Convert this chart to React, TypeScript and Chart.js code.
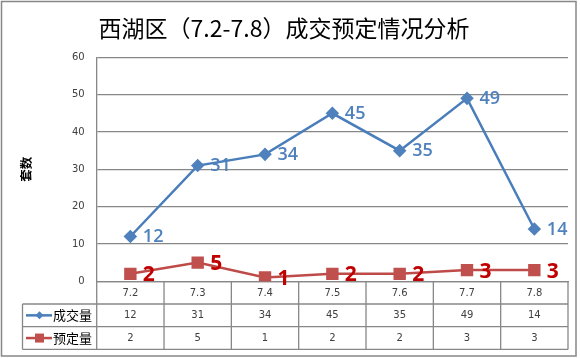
import React, { useEffect, useRef } from "react";
import { Chart, registerables } from "chart.js";

Chart.register(...registerables);

const titleText = "西湖区（7.2-7.8）成交预定情况分析";
const yAxisTitle = "套数";
const categories = ["7.2", "7.3", "7.4", "7.5", "7.6", "7.7", "7.8"];
const dealSeriesName = "成交量";
const dealValues = [12, 31, 34, 45, 35, 49, 14];
const reserveSeriesName = "预定量";
const reserveValues = [2, 5, 1, 2, 2, 3, 3];
const yMin = 0;
const yMax = 60;
const yStep = 10;

const BLUE_LINE = "#4A7EBB";
const BLUE_MARK = "#4F81BD";
const BLUE_LABEL = "#4F81BD";
const RED_LINE = "#BE4B48";
const RED_MARK = "#C0504D";
const RED_LABEL = "#C00000";
const GRID = "#878787";
const TEXT = "#404040";
const CJK = '"Noto Sans CJK SC", "Noto Sans", sans-serif';
const TICKFONT = '"DejaVu Sans", sans-serif';

const labelPlugin = {
  id: "pointLabels",
  afterDatasetsDraw(chart: any) {
    const ctx = chart.ctx;
    chart.data.datasets.forEach((ds: any, i: number) => {
      const meta = chart.getDatasetMeta(i);
      ctx.save();
      ctx.fillStyle = ds.labelColor;
      ctx.font = ds.labelFont;
      ctx.textAlign = "left";
      ctx.textBaseline = "middle";
      meta.data.forEach((pt: any, j: number) => {
        ctx.fillText(String(ds.data[j]), pt.x + 12.5, pt.y + ds.labelDy);
      });
      ctx.restore();
    });
  },
};

const tablePlugin = {
  id: "dataTable",
  afterDraw(chart: any) {
    const ctx = chart.ctx;
    const x = chart.scales.x;
    const area = chart.chartArea;
    const left = area.left;
    const right = area.right;
    const top = area.bottom;
    const rowH = 22.7;
    const legendLeft = 22.5;
    const r1 = top + rowH;
    const r2 = r1 + rowH;
    const r3 = r2 + rowH;
    ctx.save();
    ctx.strokeStyle = GRID;
    ctx.lineWidth = 1.3;
    const line = (x1: number, y1: number, x2: number, y2: number) => {
      ctx.beginPath();
      ctx.moveTo(x1, y1);
      ctx.lineTo(x2, y2);
      ctx.stroke();
    };
    line(legendLeft, r1, right, r1);
    line(legendLeft, r2, right, r2);
    line(legendLeft, r3, right, r3);
    line(legendLeft, r1, legendLeft, r3);
    const n = categories.length;
    const colW = (right - left) / n;
    for (let i = 0; i <= n; i++) {
      const cx = left + i * colW;
      line(cx, top, cx, r3);
    }
    chart.data.datasets.forEach((ds: any, di: number) => {
      const cy = di === 0 ? (r1 + r2) / 2 : (r2 + r3) / 2;
      ctx.fillStyle = TEXT;
      ctx.font = "10px " + TICKFONT;
      ctx.textAlign = "center";
      ctx.textBaseline = "middle";
      ds.data.forEach((v: number, j: number) => {
        ctx.fillText(String(v), x.getPixelForValue(j), cy + 0.5);
      });
      ctx.save();
      ctx.strokeStyle = ds.borderColor;
      ctx.lineWidth = 2.5;
      line(26, cy, 52, cy);
      ctx.fillStyle = ds.pointBackgroundColor;
      if (di === 0) {
        ctx.beginPath();
        ctx.moveTo(39.5, cy - 4);
        ctx.lineTo(43.5, cy);
        ctx.lineTo(39.5, cy + 4);
        ctx.lineTo(35.5, cy);
        ctx.closePath();
        ctx.fill();
      } else {
        ctx.fillRect(35, cy - 4.5, 9, 9);
      }
      ctx.restore();
      ctx.fillStyle = "#000000";
      ctx.font = "13px " + CJK;
      ctx.textAlign = "left";
      ctx.fillText(ds.label, 53, cy);
    });
    ctx.restore();
    ctx.save();
    ctx.strokeStyle = GRID;
    ctx.lineWidth = 1.5;
    ctx.strokeRect(1.5, 1.5, 574.5, 354.5);
    ctx.restore();
  },
};

export default function App() {
  const ref = useRef<HTMLCanvasElement | null>(null);
  useEffect(() => {
    if (!ref.current) return;
    const chart = new Chart(ref.current, {
      type: "line",
      data: {
        labels: categories,
        datasets: [
          {
            label: dealSeriesName,
            data: dealValues,
            borderColor: BLUE_LINE,
            backgroundColor: BLUE_MARK,
            pointBackgroundColor: BLUE_MARK,
            pointBorderColor: BLUE_MARK,
            borderWidth: 2.5,
            pointStyle: "rectRot",
            pointRadius: 5,
            tension: 0,
            labelColor: BLUE_LABEL,
            labelFont: "600 18px \"Open Sans\", sans-serif",
            labelDy: 0.5,
          } as any,
          {
            label: reserveSeriesName,
            data: reserveValues,
            borderColor: RED_LINE,
            backgroundColor: RED_MARK,
            pointBackgroundColor: RED_MARK,
            pointBorderColor: RED_MARK,
            borderWidth: 2.5,
            pointStyle: "rect",
            pointRadius: 7,
            tension: 0,
            labelColor: RED_LABEL,
            labelFont: "bold 21px \"Open Sans\", sans-serif",
            labelDy: 1.5,
          } as any,
        ],
      },
      options: {
        responsive: false,
        animation: false,
        layout: { padding: { left: 0, right: 12, top: 0, bottom: 54 } },
        plugins: {
          legend: { display: false },
          tooltip: { enabled: false },
          title: {
            display: true,
            text: titleText,
            color: "#000000",
            font: { family: CJK, size: 23, weight: "normal", lineHeight: 1.2 },
            padding: { top: 14.2, bottom: 15.5 },
          },
        },
        scales: {
          x: {
            offset: true,
            grid: { display: false, drawTicks: false },
            border: { display: true, color: GRID, width: 1.3 },
            ticks: {
              color: TEXT,
              font: { family: TICKFONT, size: 10 },
              padding: 6,
              maxRotation: 0,
            },
            afterFit: (s: any) => {
              s.height = 22.7;
            },
          },
          y: {
            min: yMin,
            max: yMax,
            ticks: {
              stepSize: yStep,
              color: TEXT,
              font: { family: TICKFONT, size: 10 },
              padding: 12,
            },
            grid: { color: GRID, lineWidth: 1.3, drawTicks: false },
            border: { display: true, color: GRID, width: 1.3 },
            title: {
              display: true,
              text: yAxisTitle,
              color: "#000000",
              font: { family: CJK, size: 12.5, weight: "bold", lineHeight: 1.2 },
              padding: { top: 18.5, bottom: 0 },
            },
            afterFit: (s: any) => {
              s.width = 96.7;
            },
          },
        },
      },
      plugins: [labelPlugin, tablePlugin],
    });
    return () => chart.destroy();
  }, []);
  return (
    <div style={{ position: "fixed", left: 0, top: 0, width: 580, height: 358, background: "#fff" }}>
      <canvas ref={ref} width={580} height={358} />
    </div>
  );
}
